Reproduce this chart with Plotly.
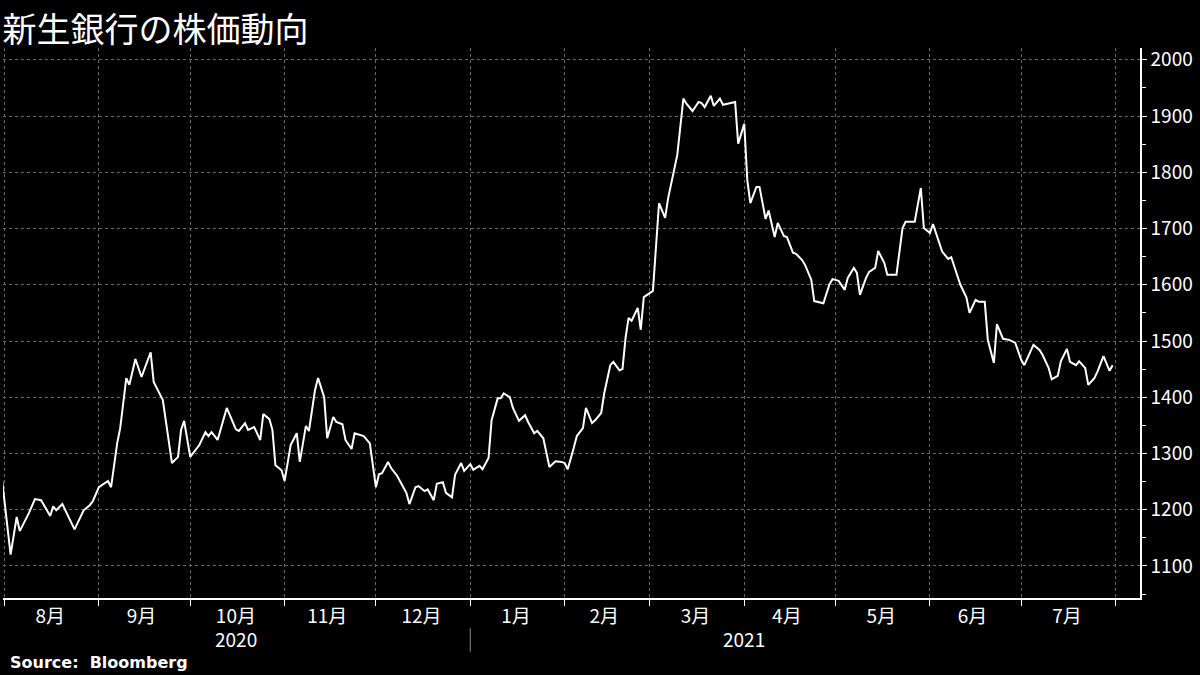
import plotly.graph_objects as go

dates = ["2020-07-31","2020-08-03","2020-08-05","2020-08-06","2020-08-09","2020-08-11","2020-08-13","2020-08-16","2020-08-17","2020-08-18",
"2020-08-20","2020-08-24","2020-08-27","2020-08-29","2020-08-30","2020-09-01","2020-09-04","2020-09-05","2020-09-07","2020-09-08",
"2020-09-10","2020-09-11","2020-09-13","2020-09-15","2020-09-18","2020-09-19","2020-09-22","2020-09-25","2020-09-27","2020-09-28",
"2020-09-29","2020-10-01","2020-10-04","2020-10-06","2020-10-07","2020-10-08","2020-10-10","2020-10-13","2020-10-16","2020-10-17",
"2020-10-19","2020-10-20","2020-10-22","2020-10-24","2020-10-25","2020-10-27","2020-10-28","2020-10-29","2020-10-31","2020-11-01",
"2020-11-03","2020-11-05","2020-11-06","2020-11-08","2020-11-09","2020-11-11","2020-11-12","2020-11-14","2020-11-15","2020-11-17",
"2020-11-18","2020-11-20","2020-11-21","2020-11-23","2020-11-24","2020-11-26","2020-11-27","2020-11-29","2020-12-01","2020-12-02",
"2020-12-03","2020-12-05","2020-12-06","2020-12-08","2020-12-11","2020-12-12","2020-12-14","2020-12-15","2020-12-17","2020-12-18",
"2020-12-20","2020-12-21","2020-12-23","2020-12-24","2020-12-26","2020-12-27","2020-12-29","2020-12-30","2021-01-01","2021-01-02",
"2021-01-04","2021-01-05","2021-01-07","2021-01-08","2021-01-10","2021-01-11","2021-01-12","2021-01-14","2021-01-15","2021-01-17",
"2021-01-19","2021-01-20","2021-01-22","2021-01-23","2021-01-25","2021-01-26","2021-01-27","2021-01-29","2021-01-31","2021-02-01",
"2021-02-02","2021-02-04","2021-02-05","2021-02-07","2021-02-08","2021-02-10","2021-02-11","2021-02-13","2021-02-14","2021-02-16",
"2021-02-17","2021-02-19","2021-02-20","2021-02-21","2021-02-22","2021-02-23","2021-02-25","2021-02-26","2021-02-27","2021-03-02",
"2021-03-04","2021-03-06","2021-03-07","2021-03-10","2021-03-12","2021-03-13","2021-03-15","2021-03-17","2021-03-18","2021-03-19",
"2021-03-21","2021-03-22","2021-03-24","2021-03-25","2021-03-29","2021-03-30","2021-04-01","2021-04-02","2021-04-03","2021-04-05",
"2021-04-06","2021-04-08","2021-04-09","2021-04-11","2021-04-12","2021-04-14","2021-04-15","2021-04-17","2021-04-18","2021-04-20",
"2021-04-21","2021-04-23","2021-04-24","2021-04-27","2021-04-29","2021-04-30","2021-05-02","2021-05-04","2021-05-05","2021-05-07",
"2021-05-08","2021-05-09","2021-05-11","2021-05-12","2021-05-14","2021-05-15","2021-05-17","2021-05-18","2021-05-21","2021-05-23",
"2021-05-24","2021-05-27","2021-05-29","2021-05-30","2021-06-01","2021-06-02","2021-06-04","2021-06-05","2021-06-07","2021-06-08",
"2021-06-10","2021-06-11","2021-06-13","2021-06-14","2021-06-16","2021-06-17","2021-06-19","2021-06-20","2021-06-22","2021-06-23",
"2021-06-25","2021-06-27","2021-06-29","2021-06-30","2021-07-01","2021-07-02","2021-07-05","2021-07-07","2021-07-08","2021-07-10",
"2021-07-11","2021-07-13","2021-07-14","2021-07-16","2021-07-17","2021-07-19","2021-07-20","2021-07-22","2021-07-23","2021-07-25",
"2021-07-26","2021-07-28","2021-07-29","2021-07-30","2021-07-31"]

prices = [1262,1120,1187,1162,1194,1219,1217,1189,1206,1199,
1210,1165,1199,1208,1215,1240,1251,1240,1318,1345,
1434,1422,1468,1436,1480,1427,1395,1283,1294,1342,
1358,1294,1315,1338,1331,1338,1324,1381,1343,1340,
1354,1342,1347,1324,1370,1361,1342,1279,1270,1251,
1315,1336,1285,1349,1340,1413,1434,1400,1327,1365,
1356,1352,1324,1308,1336,1333,1331,1318,1240,1263,
1265,1285,1274,1260,1230,1210,1240,1242,1233,1236,
1217,1246,1249,1230,1222,1262,1283,1269,1281,1271,
1278,1272,1292,1359,1398,1398,1407,1400,1381,1358,
1368,1356,1336,1340,1327,1301,1276,1286,1285,1283,
1272,1310,1331,1345,1381,1354,1359,1372,1407,1457,
1463,1448,1450,1505,1541,1536,1559,1520,1578,1589,
1745,1719,1754,1831,1931,1922,1909,1925,1923,1916,
1936,1918,1931,1920,1925,1851,1886,1786,1745,1774,
1774,1717,1732,1685,1710,1687,1685,1657,1655,1644,
1635,1609,1571,1567,1601,1610,1607,1591,1612,1630,
1621,1582,1612,1623,1630,1660,1639,1618,1618,1701,
1712,1712,1772,1701,1692,1708,1675,1659,1646,1649,
1616,1600,1577,1550,1573,1570,1570,1502,1461,1530,
1504,1502,1497,1480,1466,1457,1493,1484,1475,1452,
1432,1438,1464,1486,1463,1457,1464,1452,1422,1434,
1445,1473,1459,1447,1457]

month_starts = ["2020-08-01","2020-09-01","2020-10-01","2020-11-01","2020-12-01","2021-01-01",
                "2021-02-01","2021-03-01","2021-04-01","2021-05-01","2021-06-01","2021-07-01","2021-08-01"]
month_mids = ["2020-08-16","2020-09-15","2020-10-16","2020-11-15","2020-12-16","2021-01-16",
              "2021-02-14","2021-03-16","2021-04-15","2021-05-16","2021-06-15","2021-07-16"]
month_labels = ["8月","9月","10月","11月","12月","1月","2月","3月","4月","5月","6月","7月"]
year_labels = ["2020","2021"]
year_pos = ["2020-10-16","2021-04-01"]
y_ticks = [1100,1200,1300,1400,1500,1600,1700,1800,1900,2000]

FONT = "Noto Sans CJK JP"
grid = "#666666"

fig = go.Figure(go.Scatter(x=dates, y=prices, mode="lines",
                           line=dict(color="white", width=2), hoverinfo="skip"))

fig.update_layout(
    width=1200, height=675, paper_bgcolor="black", plot_bgcolor="black",
    margin=dict(l=3, r=60, t=48, b=77), showlegend=False,
    font=dict(family=FONT, color="white", size=19),
    title=dict(text="新生銀行の株価動向", x=0.002, xanchor="left", y=0.956, yanchor="middle",
               font=dict(size=34, color="white", family=FONT)),
    xaxis=dict(range=["2020-07-31 12:00", "2021-08-09"], tickmode="array",
               tickvals=month_mids, ticktext=month_labels, ticks="", showgrid=False,
               showline=True, linecolor="white", linewidth=1.5, zeroline=False,
               tickfont=dict(size=19, color="white"),
               minor=dict(tickmode="array", tickvals=month_starts, ticks="outside", ticklen=6,
                          tickcolor="white", showgrid=True, gridcolor=grid, griddash="dot", gridwidth=1)),
    yaxis=dict(side="right", range=[1043, 2021], tickmode="array", tickvals=y_ticks,
               showgrid=True, gridcolor=grid, griddash="dot", gridwidth=1,
               showline=True, linecolor="white", linewidth=1.5, ticks="outside", ticklen=5,
               tickcolor="white", zeroline=False, tickfont=dict(size=19, color="white"),
               minor=dict(dtick=50, ticks="outside", ticklen=4, tickcolor="white", showgrid=False)),
)

for lab, pos in zip(year_labels, year_pos):
    fig.add_annotation(x=pos, y=-0.073, xref="x", yref="paper", text=lab, showarrow=False,
                       yanchor="middle", font=dict(size=19, color="white"))
fig.add_shape(type="line", xref="x", yref="paper", x0="2021-01-01", x1="2021-01-01",
              y0=-0.055, y1=-0.098, line=dict(color="#888", width=1))
fig.add_annotation(x=0.004, y=-0.118, xref="paper", yref="paper", xanchor="left", yanchor="middle",
                   text="<b>Source:  Bloomberg</b>", showarrow=False,
                   font=dict(size=16, color="white", family="DejaVu Sans"))

fig.write_html("out.html", config={"displayModeBar": False},
               post_script="document.body.style.margin='0';document.body.style.background='black';")
